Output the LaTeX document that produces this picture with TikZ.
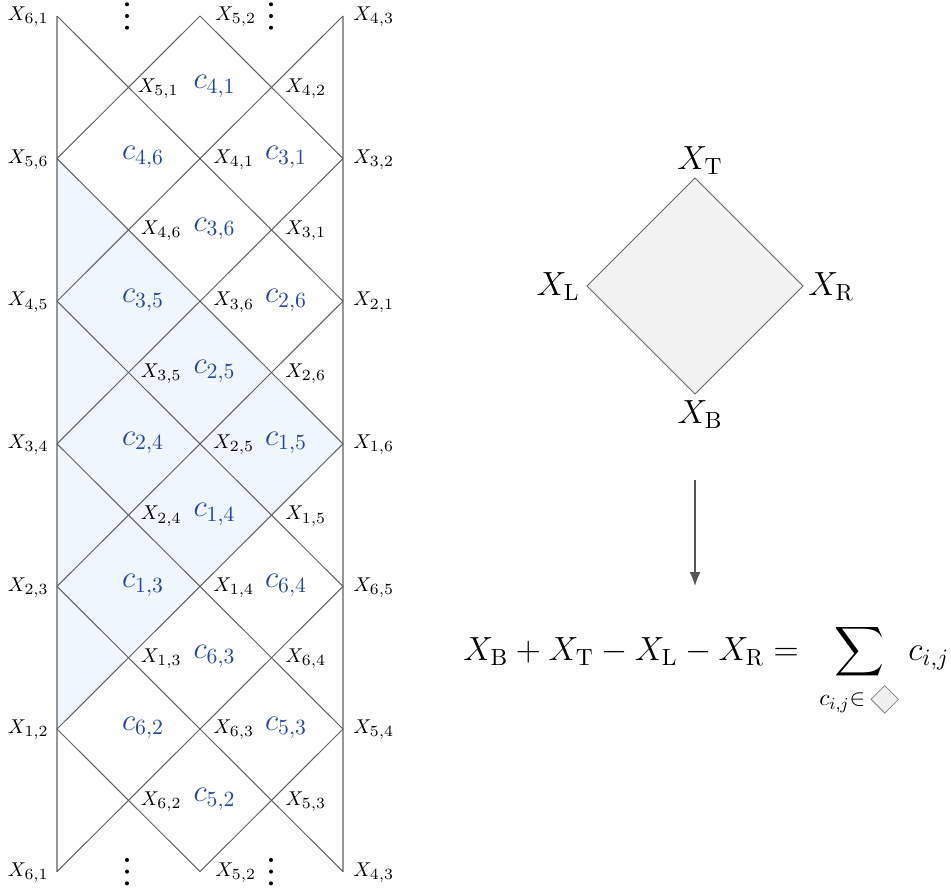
\RequirePackage{fix-cm}
\documentclass[tikz,border=0pt]{standalone}
\usepackage{exscale}
\usepackage{graphicx}
\usetikzlibrary{arrows.meta}
\DeclareMathSizes{10}{10}{7.8}{6}
\definecolor{shadeblue}{RGB}{239,246,253}
\definecolor{clabel}{RGB}{33,72,160}
\definecolor{gridline}{RGB}{95,95,95}
\definecolor{edgeline}{RGB}{150,150,150}
\definecolor{arrowgray}{RGB}{85,85,85}
\newcommand{\minidiamond}{\raisebox{-3.7pt}{\rotatebox{45}{\setlength{\fboxsep}{0pt}\setlength{\fboxrule}{0.4pt}\fcolorbox{gray}{black!6}{\rule{0pt}{9.3pt}\hspace{9.3pt}}}}}
\begin{document}
\begin{tikzpicture}[x=0.5pt,y=-0.5pt,
  gridln/.style={draw=gridline,line width=0.5pt},
  edgeln/.style={draw=edgeline,line width=0.9pt},
  xlbl/.style={inner sep=0pt,font=\fontsize{10}{12}\selectfont,yshift=-0.5pt},
  lc0/.style={xlbl,anchor=east,xshift=-4pt},
  lc1/.style={xlbl,anchor=west,xshift=6pt},
  lc2/.style={xlbl,anchor=west,xshift=6.5pt},
  lc3/.style={xlbl,anchor=west,xshift=6.75pt},
  lc4/.style={xlbl,anchor=west,xshift=5pt},
  cl/.style={inner sep=0pt,text=clabel,font=\fontsize{15.5}{18}\selectfont,xshift=7.25pt,yshift=0.5pt},
  dlbl/.style={inner sep=0pt,font=\fontsize{16.75}{20}\selectfont}
]
\useasboundingbox (0,0) rectangle (951,895);
% lattice coordinates
\foreach \i in {0,...,4}{
  \foreach \k in {0,...,12}{
    \coordinate (v\i-\k) at ({57+71.5*\i},{16+71.3*\k});
  }
}
% shaded region
\fill[shadeblue] (v0-2) -- (v4-6) -- (v0-10) -- cycle;
% vertical edges
\draw[edgeln] (v0-0) -- (v0-12);
\draw[edgeln] (v4-0) -- (v4-12);
% diagonals (down-right)
\draw[gridln] (v0-0) -- (v4-4);
\draw[gridln] (v0-2) -- (v4-6);
\draw[gridln] (v0-4) -- (v4-8);
\draw[gridln] (v0-6) -- (v4-10);
\draw[gridln] (v0-8) -- (v4-12);
\draw[gridln] (v0-10) -- (v2-12);
\draw[gridln] (v2-0) -- (v4-2);
% diagonals (down-left)
\draw[gridln] (v2-0) -- (v0-2);
\draw[gridln] (v4-0) -- (v0-4);
\draw[gridln] (v4-2) -- (v0-6);
\draw[gridln] (v4-4) -- (v0-8);
\draw[gridln] (v4-6) -- (v0-10);
\draw[gridln] (v4-8) -- (v0-12);
\draw[gridln] (v4-10) -- (v2-12);
% vertical dots
\foreach \cx in {127,271}{
  \foreach \yy in {16,871.6}{
    \fill (\cx,\yy-11.7) circle[radius=1pt];
    \fill (\cx,\yy) circle[radius=1pt];
    \fill (\cx,\yy+11.7) circle[radius=1pt];
  }
}
% vertex labels
\node[lc0] (x0-0) at (v0-0) {$X_{6,1}$};
\node[lc2,xshift=1pt] (x2-0) at (v2-0) {$X_{5,2}$};
\node[lc4] (x4-0) at (v4-0) {$X_{4,3}$};
\node[lc1,xshift=-1.5pt] (x1-1) at (v1-1) {$X_{5,1}$};
\node[lc3] (x3-1) at (v3-1) {$X_{4,2}$};
\node[lc0] (x0-2) at (v0-2) {$X_{5,6}$};
\node[lc2] (x2-2) at (v2-2) {$X_{4,1}$};
\node[lc4] (x4-2) at (v4-2) {$X_{3,2}$};
\node[lc1] (x1-3) at (v1-3) {$X_{4,6}$};
\node[lc3] (x3-3) at (v3-3) {$X_{3,1}$};
\node[lc0] (x0-4) at (v0-4) {$X_{4,5}$};
\node[lc2] (x2-4) at (v2-4) {$X_{3,6}$};
\node[lc4] (x4-4) at (v4-4) {$X_{2,1}$};
\node[lc1] (x1-5) at (v1-5) {$X_{3,5}$};
\node[lc3] (x3-5) at (v3-5) {$X_{2,6}$};
\node[lc0] (x0-6) at (v0-6) {$X_{3,4}$};
\node[lc2] (x2-6) at (v2-6) {$X_{2,5}$};
\node[lc4] (x4-6) at (v4-6) {$X_{1,6}$};
\node[lc1] (x1-7) at (v1-7) {$X_{2,4}$};
\node[lc3] (x3-7) at (v3-7) {$X_{1,5}$};
\node[lc0] (x0-8) at (v0-8) {$X_{2,3}$};
\node[lc2] (x2-8) at (v2-8) {$X_{1,4}$};
\node[lc4] (x4-8) at (v4-8) {$X_{6,5}$};
\node[lc1] (x1-9) at (v1-9) {$X_{1,3}$};
\node[lc3] (x3-9) at (v3-9) {$X_{6,4}$};
\node[lc0] (x0-10) at (v0-10) {$X_{1,2}$};
\node[lc2] (x2-10) at (v2-10) {$X_{6,3}$};
\node[lc4] (x4-10) at (v4-10) {$X_{5,4}$};
\node[lc1] (x1-11) at (v1-11) {$X_{6,2}$};
\node[lc3] (x3-11) at (v3-11) {$X_{5,3}$};
\node[lc0] (x0-12) at (v0-12) {$X_{6,1}$};
\node[lc2,xshift=1pt] (x2-12) at (v2-12) {$X_{5,2}$};
\node[lc4] (x4-12) at (v4-12) {$X_{4,3}$};
% face labels
\node[cl] (c2-1) at (v2-1) {$c_{4,1}$};
\node[cl] (c1-2) at (v1-2) {$c_{4,6}$};
\node[cl] (c3-2) at (v3-2) {$c_{3,1}$};
\node[cl] (c2-3) at (v2-3) {$c_{3,6}$};
\node[cl] (c1-4) at (v1-4) {$c_{3,5}$};
\node[cl] (c3-4) at (v3-4) {$c_{2,6}$};
\node[cl] (c2-5) at (v2-5) {$c_{2,5}$};
\node[cl] (c1-6) at (v1-6) {$c_{2,4}$};
\node[cl] (c3-6) at (v3-6) {$c_{1,5}$};
\node[cl] (c2-7) at (v2-7) {$c_{1,4}$};
\node[cl] (c1-8) at (v1-8) {$c_{1,3}$};
\node[cl] (c3-8) at (v3-8) {$c_{6,4}$};
\node[cl] (c2-9) at (v2-9) {$c_{6,3}$};
\node[cl] (c1-10) at (v1-10) {$c_{6,2}$};
\node[cl] (c3-10) at (v3-10) {$c_{5,3}$};
\node[cl] (c2-11) at (v2-11) {$c_{5,2}$};
% the single diamond
\coordinate (dT) at (695,178);
\coordinate (dR) at (803,286);
\coordinate (dB) at (695,394);
\coordinate (dL) at (587,286);
\draw[draw=gray!80!black,line width=0.5pt,fill=black!5] (dT) -- (dR) -- (dB) -- (dL) -- cycle;
\node[dlbl,anchor=south,xshift=2.5pt,yshift=1.5pt] (lT) at (dT) {$X_{\mathrm{T}}$};
\node[dlbl,anchor=north,xshift=2.5pt,yshift=-3pt] (lB) at (dB) {$X_{\mathrm{B}}$};
\node[dlbl,anchor=east,xshift=-3.5pt,yshift=-0.5pt] (lL) at (dL) {$X_{\mathrm{L}}$};
\node[dlbl,anchor=west,xshift=2.5pt,yshift=-0.5pt] (lR) at (dR) {$X_{\mathrm{R}}$};
% arrow
\coordinate (a1) at (695,480);
\coordinate (a2) at (695,586);
\draw[draw=arrowgray,line width=0.75pt,-{Latex[length=7pt,width=5.5pt]}] (a1) -- (a2);
% equation
\node[dlbl,anchor=base west] (eq) at (463,660)
  {$\displaystyle X_{\mathrm{B}}+X_{\mathrm{T}}-X_{\mathrm{L}}-X_{\mathrm{R}}=\mkern6mu\sum_{c_{i,j}\in\mkern4mu\minidiamond}\mkern2mu c_{i,j}$};
\end{tikzpicture}
\end{document}
